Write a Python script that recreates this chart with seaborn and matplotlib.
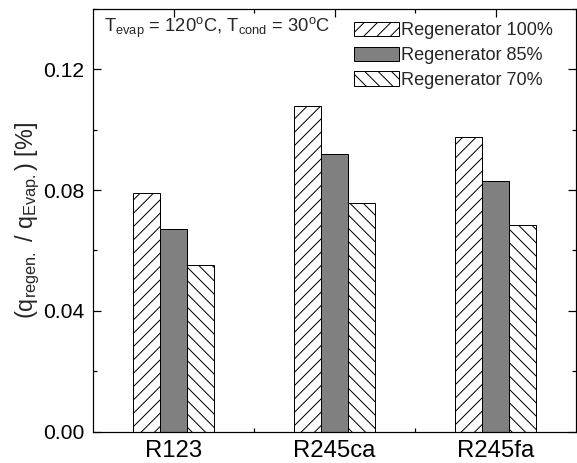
import matplotlib
matplotlib.use("Agg")
import matplotlib.pyplot as plt
import seaborn as sns
import pandas as pd
from matplotlib.ticker import MultipleLocator, FixedLocator

refrigerants = ["R123", "R245ca", "R245fa"]
series_names = ["Regenerator 100%", "Regenerator 85%", "Regenerator 70%"]
regen_100 = [0.0790, 0.1079, 0.0977]
regen_85 = [0.0671, 0.0918, 0.0831]
regen_70 = [0.0551, 0.0756, 0.0683]

df = pd.DataFrame({
    "ref": refrigerants * 3,
    "series": [series_names[0]] * 3 + [series_names[1]] * 3 + [series_names[2]] * 3,
    "value": regen_100 + regen_85 + regen_70,
})

sns.set_theme(style="white")
plt.rcParams["font.family"] = ["Liberation Sans", "DejaVu Sans"]
plt.rcParams["mathtext.fontset"] = "custom"
plt.rcParams["mathtext.rm"] = "Liberation Sans"
plt.rcParams["mathtext.it"] = "Liberation Sans:italic"
plt.rcParams["hatch.linewidth"] = 0.9

DPI = 80
fig = plt.figure(figsize=(577 / DPI, 463 / DPI), dpi=DPI)
ax = fig.add_axes([93 / 577, 31.5 / 463, (576 - 93) / 577, (431.5 - 9) / 463])

sns.barplot(data=df, x="ref", y="value", hue="series", order=refrigerants,
            hue_order=series_names, width=0.5, dodge=True,
            palette=["white", "#808080", "white"], edgecolor="black",
            linewidth=0.9, saturation=1, ax=ax, legend=False)

hatches = ["//", "", "\\\\"]
for cont, h in zip(ax.containers, hatches):
    for bar in cont:
        bar.set_hatch(h)
        bar.set_edgecolor("black")

ax.set_xlim(-0.5, 2.5)
ax.set_ylim(0, 0.14)
ax.yaxis.set_major_locator(FixedLocator([0.0, 0.04, 0.08, 0.12]))
ax.yaxis.set_minor_locator(MultipleLocator(0.02))
ax.set_yticklabels(["0.00", "0.04", "0.08", "0.12"])
ax.xaxis.set_minor_locator(FixedLocator([0.5, 1.5]))

for s in ax.spines.values():
    s.set_linewidth(1.1)
    s.set_color("black")

ax.tick_params(which="both", direction="in", top=True, right=True,
               bottom=True, left=True, colors="black", width=1.1)
ax.tick_params(which="major", length=7, pad=8)
ax.tick_params(which="minor", length=4)
ax.tick_params(axis="y", which="major", labelsize=19)
ax.tick_params(axis="x", which="major", labelsize=21.5, pad=8)

ax.set_xlabel("")
ax.set_ylabel(r"(q$_{\mathrm{regen.}}$ / q$_{\mathrm{Evap.}}$) [%]", fontsize=21, labelpad=1)

ax.text(0.023, 0.955,
        r"T$_{\mathrm{evap}}$ = 120$^{\mathrm{o}}$C, T$_{\mathrm{cond}}$ = 30$^{\mathrm{o}}$C",
        transform=ax.transAxes, fontsize=16.5, va="center", ha="left")

handles = [c.patches[0] for c in ax.containers]
leg = ax.legend(handles, series_names, loc="upper right", bbox_to_anchor=(0.975, 0.995),
                frameon=False, fontsize=16.3, handlelength=2.5, handleheight=0.85,
                handletextpad=0.12, labelspacing=0.4, borderaxespad=0.2)

fig.savefig("out.png", dpi=DPI)
